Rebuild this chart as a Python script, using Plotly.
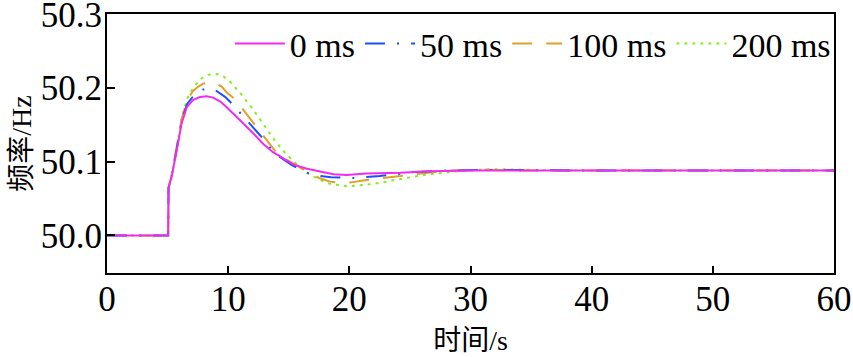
import plotly.graph_objects as go

# ---- data ----
labels = ["0 ms", "50 ms", "100 ms", "200 ms"]

t_0ms = [0, 5.05, 5.08, 5.34, 5.75, 6.16, 6.58, 7.12, 7.68, 8.23, 8.77, 9.33, 9.88, 10.4,
         11.25, 12.1, 12.9, 13.7, 14.55, 15.4, 16.5, 17.6, 18.7, 19.8, 21.4, 24.2, 26.7,
         30, 35, 40, 50, 60]
f_0ms = [50.0, 50.0, 50.065, 50.08, 50.115, 50.152, 50.174, 50.184, 50.188, 50.189, 50.187,
         50.182, 50.174, 50.166, 50.152, 50.138, 50.124, 50.113, 50.104, 50.096, 50.0905,
         50.087, 50.083, 50.082, 50.084, 50.085, 50.087, 50.088, 50.088, 50.088, 50.088, 50.088]

t_50ms = [0, 5.05, 5.08, 5.34, 5.75, 6.16, 6.6, 7.26, 7.68, 8.09, 8.86, 9.74, 10.3, 10.84,
          11.66, 12.63, 13.45, 14.3, 15.2, 16.1, 17.0, 18.5, 20.3, 21.2, 22.5, 25.3, 28,
          32, 40, 50, 60]
f_50ms = [50.0, 50.0, 50.065, 50.08, 50.117, 50.155, 50.178, 50.192, 50.196, 50.199, 50.198,
          50.188, 50.179, 50.169, 50.154, 50.136, 50.119, 50.106, 50.096, 50.088, 50.082,
          50.079, 50.078, 50.079, 50.0805, 50.086, 50.088, 50.089, 50.088, 50.088, 50.088]

t_100ms = [0, 5.05, 5.08, 5.34, 5.75, 6.16, 6.6, 7.1, 7.54, 7.95, 8.5, 9.0, 9.46, 9.88, 10.56,
           11.39, 12.2, 13.2, 13.86, 14.8, 15.66, 16.75, 17.5, 18.4, 19.2, 20.2, 21.1, 22.3,
           24.2, 26, 28, 31, 35, 40, 50, 60]
f_100ms = [50.0, 50.0, 50.065, 50.082, 50.12, 50.158, 50.183, 50.196, 50.202, 50.206, 50.208,
           50.206, 50.202, 50.194, 50.185, 50.167, 50.149, 50.129, 50.115, 50.103, 50.095,
           50.084, 50.078, 50.073, 50.0715, 50.072, 50.0746, 50.077, 50.081, 50.085, 50.088,
           50.089, 50.088, 50.088, 50.088, 50.088]

t_200ms = [0, 5.05, 5.08, 5.34, 5.75, 6.16, 6.6, 6.99, 7.4, 7.8, 8.36, 9.1, 9.6, 10.2, 11.1,
           11.6, 12.1, 12.9, 13.8, 14.7, 15.24, 15.8, 16.5, 17.0, 17.6, 18.4, 19.9, 21.4, 22.8,
           23.6, 25.1, 26.6, 28.9, 31.9, 35, 40, 50, 60]
f_200ms = [50.0, 50.0, 50.065, 50.082, 50.12, 50.16, 50.185, 50.197, 50.206, 50.213, 50.218,
           50.219, 50.216, 50.208, 50.191, 50.181, 50.170, 50.151, 50.130, 50.112, 50.103,
           50.094, 50.085, 50.080, 50.075, 50.070, 50.0665, 50.0688, 50.072, 50.075, 50.079,
           50.083, 50.087, 50.090, 50.089, 50.088, 50.088, 50.088]

x_ticks = [0, 10, 20, 30, 40, 50, 60]
y_ticks = [50.0, 50.1, 50.2, 50.3]
y_ticktext = ["50.0", "50.1", "50.2", "50.3"]

x_title = "时间/s"
y_title = "频率/Hz"

# ---- styles ----
colors = ["#F22BF0", "#1A4FFF", "#E29F2C", "#7FF21E"]
dashes = ["solid", "20px,12px,2px,12px", "20px,14px", "3px,5px"]

series_t = [t_0ms, t_50ms, t_100ms, t_200ms]
series_f = [f_0ms, f_50ms, f_100ms, f_200ms]

font_num = "Liberation Serif, Times New Roman, serif"
font_cjk = "Liberation Serif, Noto Sans CJK SC, serif"

fig = go.Figure()
# draw in reverse so the 0 ms curve sits on top
for i in reversed(range(4)):
    fig.add_trace(go.Scatter(
        x=series_t[i], y=series_f[i], mode="lines", name=labels[i],
        line=dict(color=colors[i], width=2, dash=dashes[i]),
    ))

fig.update_layout(
    width=853, height=357,
    margin=dict(l=107, r=19, t=14, b=84),
    paper_bgcolor="white", plot_bgcolor="white",
    font=dict(family=font_num, size=34, color="black"),
    showlegend=True,
    legend=dict(
        orientation="h", traceorder="reversed",
        x=0.169, xanchor="left", y=0.885, yanchor="middle",
        bgcolor="rgba(0,0,0,0)", font=dict(family=font_num, size=34, color="black"),
        itemwidth=50,
    ),
    xaxis=dict(
        range=[0, 60], tickvals=x_ticks, ticks="inside", ticklen=7, tickwidth=2,
        tickcolor="black", showline=True, linewidth=2, linecolor="black", mirror=True,
        showgrid=False, zeroline=False, automargin=False, ticklabelstandoff=-6,
        ticklabeloverflow="allow",
        tickfont=dict(family=font_num, size=35),
        title=dict(text=x_title, font=dict(family=font_cjk, size=28), standoff=12),
    ),
    yaxis=dict(
        range=[49.949, 50.3005], tickvals=y_ticks, ticktext=y_ticktext, ticks="inside",
        ticklen=8, tickwidth=2, tickcolor="black", showline=True, linewidth=2,
        linecolor="black", mirror=True, showgrid=False, zeroline=False, automargin=False,
        ticklabelstandoff=-4, ticklabeloverflow="allow",
        tickfont=dict(family=font_num, size=35),
        title=dict(text=y_title, font=dict(family=font_cjk, size=28), standoff=1),
    ),
)

fig.write_html("out.html", config={"displayModeBar": False},
               post_script="document.body.style.margin='0';")
